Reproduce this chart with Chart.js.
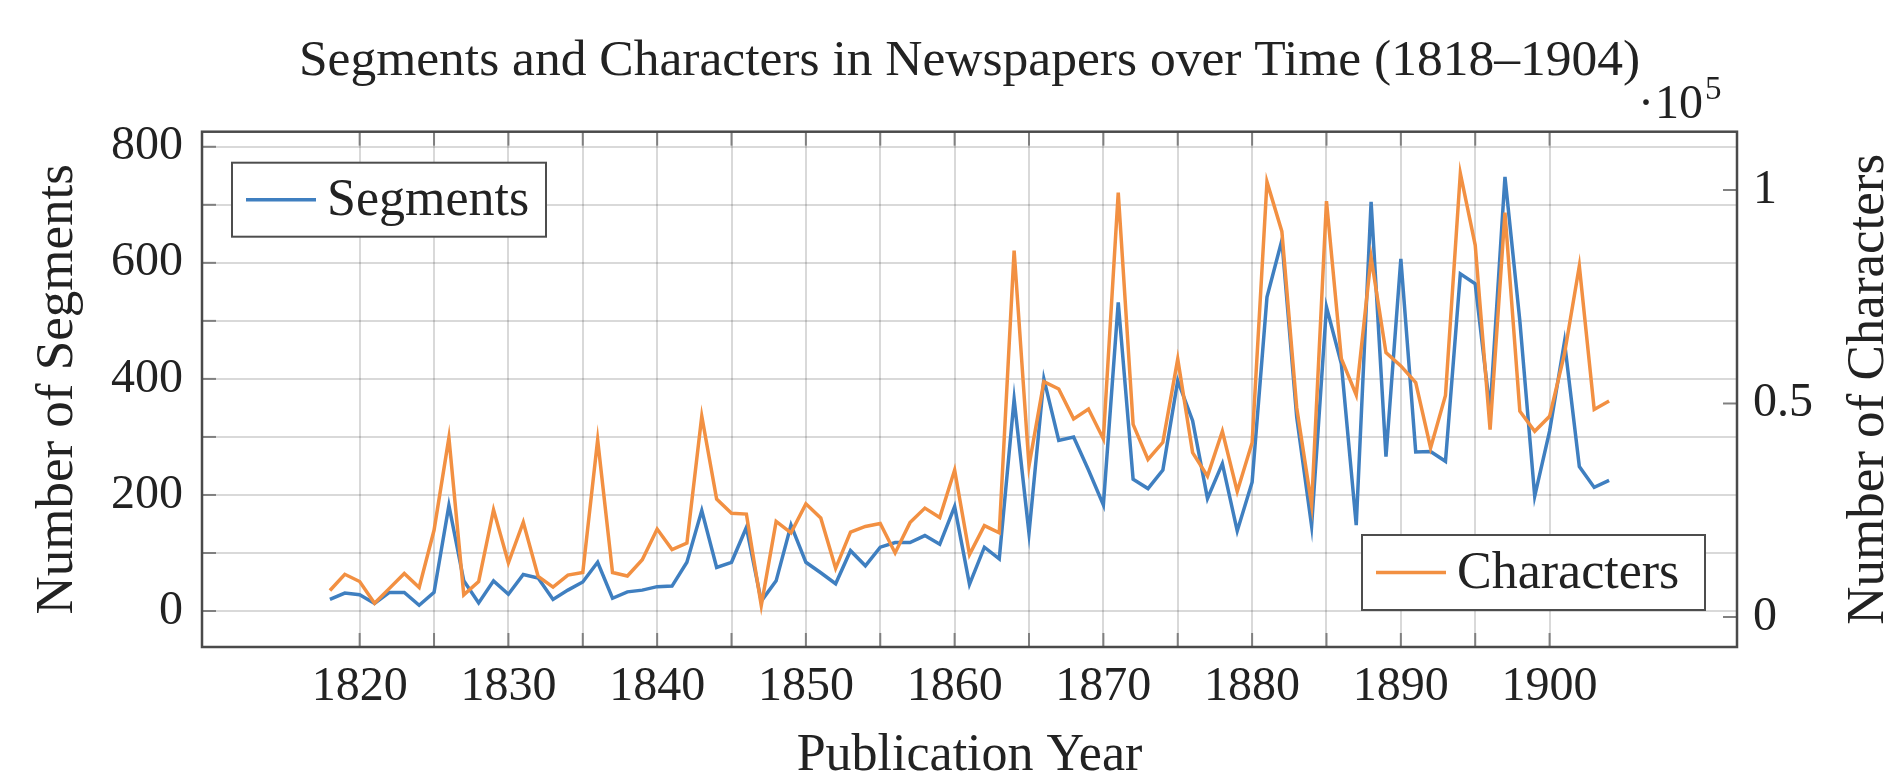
<!DOCTYPE html>
<html>
<head>
<meta charset="utf-8">
<script src="https://cdn.jsdelivr.net/npm/chart.js@4.4.1/dist/chart.umd.min.js"></script>
<style>
  html, body { margin: 0; padding: 0; background: #ffffff; }
  canvas { display: block; }
</style>
</head>
<body>
<canvas id="chart" width="1890" height="777"></canvas>
<script>
// ---------------- data ----------------
const chartTitle = 'Segments and Characters in Newspapers over Time (1818–1904)';
const seriesNames = ['Segments', 'Characters'];
const xAxisTitle = 'Publication Year';
const leftAxisTitle = 'Number of Segments';
const rightAxisTitle = 'Number of Characters';

const years = [
  1818, 1819, 1820, 1821, 1822, 1823, 1824, 1825, 1826, 1827,
  1828, 1829, 1830, 1831, 1832, 1833, 1834, 1835, 1836, 1837,
  1838, 1839, 1840, 1841, 1842, 1843, 1844, 1845, 1846, 1847,
  1848, 1849, 1850, 1851, 1852, 1853, 1854, 1855, 1856, 1857,
  1858, 1859, 1860, 1861, 1862, 1863, 1864, 1865, 1866, 1867,
  1868, 1869, 1870, 1871, 1872, 1873, 1874, 1875, 1876, 1877,
  1878, 1879, 1880, 1881, 1882, 1883, 1884, 1885, 1886, 1887,
  1888, 1889, 1890, 1891, 1892, 1893, 1894, 1895, 1896, 1897,
  1898, 1899, 1900, 1901, 1902, 1903, 1904
];

const segments = [
  20, 31, 28, 13, 32, 32, 10, 32, 182, 52,
  14, 52, 29, 63, 57, 20, 36, 50, 84, 22,
  33, 36, 42, 43, 84, 173, 75, 84, 144, 17,
  52, 148, 84, 66, 47, 104, 78, 110, 118, 118,
  130, 115, 180, 46, 110, 90, 365, 134, 400, 294,
  300, 243, 183, 532, 227, 211, 243, 397, 328, 194,
  254, 138, 222, 541, 639, 334, 147, 524, 426, 148,
  705, 266, 607, 274, 275, 258, 581, 564, 345, 748,
  500, 198, 310, 464, 249, 213, 225
];

const characters = [
  6200, 10000, 8300, 3200, 6700, 10200, 6900, 20300, 42000, 5200,
  8300, 25100, 12700, 22200, 9500, 7000, 9800, 10400, 41500, 10400,
  9600, 13400, 20600, 15800, 17300, 47000, 27600, 24300, 24100, 2700,
  22400, 19700, 26500, 23200, 11400, 19900, 21200, 21900, 15000, 22100,
  25500, 23300, 34400, 14600, 21400, 19700, 85800, 35400, 55100, 53400,
  46400, 48700, 41700, 99400, 45100, 36900, 40900, 60400, 38500, 33000,
  43500, 29400, 40800, 101900, 90300, 49000, 26200, 97400, 60500, 52000,
  84200, 61900, 58800, 54900, 39600, 51900, 103900, 87100, 43900, 94700,
  48200, 43500, 47000, 61600, 82200, 48600, 50600
];

const xTickValues = [1820, 1825, 1830, 1835, 1840, 1845, 1850, 1855, 1860, 1865,
                     1870, 1875, 1880, 1885, 1890, 1895, 1900];
const xTickLabels = ['1820', '1830', '1840', '1850', '1860', '1870', '1880', '1890', '1900'];
const leftTickValues = [0, 100, 200, 300, 400, 500, 600, 700, 800];
const leftTickLabels = ['0', '200', '400', '600', '800'];
const rightTickValues = [0, 50000, 100000];
const rightTickLabels = ['0', '0.5', '1'];
const rightExponent = '5';

// ---------------- styles ----------------
const FONT = "'Liberation Serif', 'DejaVu Serif', serif";
const TEXT = '#222222';
const BLUE = '#3f7fc0';
const ORANGE = '#f29042';
const GRID = 'rgba(0,0,0,0.15)';

Chart.defaults.font.family = FONT;
Chart.defaults.color = TEXT;

const toPoints = (vals) => vals.map((v, i) => ({ x: years[i], y: v }));

function setTicks(values) {
  return (scale) => { scale.ticks = values.map(v => ({ value: v })); };
}

function drawLine(ctx, x1, y1, x2, y2) {
  ctx.beginPath(); ctx.moveTo(x1, y1); ctx.lineTo(x2, y2); ctx.stroke();
}

function drawLegendBox(ctx, left, top, w, h, color, label) {
  ctx.save();
  ctx.fillStyle = '#ffffff';
  ctx.fillRect(left, top, w, h);
  ctx.strokeStyle = '#4d4d4d';
  ctx.lineWidth = 2;
  ctx.strokeRect(left, top, w, h);
  const cy = top + h / 2;
  ctx.strokeStyle = color;
  ctx.lineWidth = 3.5;
  drawLine(ctx, left + 14, cy, left + 84, cy);
  ctx.fillStyle = TEXT;
  ctx.font = '52px ' + FONT;
  ctx.textAlign = 'left';
  ctx.textBaseline = 'middle';
  ctx.fillText(label, left + 95, cy + 2);
  ctx.restore();
}

const decor = {
  id: 'decor',
  afterDatasetsDraw(chart) {
    const { ctx, chartArea: a, scales } = chart;
    ctx.save();
    // inward tick marks
    ctx.strokeStyle = '#808080';
    ctx.lineWidth = 2;
    const L = 14;
    leftTickValues.forEach(v => {
      const y = scales.y.getPixelForValue(v);
      drawLine(ctx, a.left, y, a.left + L, y);
    });
    rightTickValues.forEach(v => {
      const y = scales.y1.getPixelForValue(v);
      drawLine(ctx, a.right - L, y, a.right, y);
    });
    xTickValues.forEach(v => {
      const x = scales.x.getPixelForValue(v);
      drawLine(ctx, x, a.bottom, x, a.bottom - L);
      drawLine(ctx, x, a.top, x, a.top + L);
    });
    // plot frame
    ctx.strokeStyle = '#4a4a4a';
    ctx.lineWidth = 2.5;
    ctx.strokeRect(a.left, a.top, a.right - a.left, a.bottom - a.top);
    ctx.restore();

    // legends
    drawLegendBox(ctx, a.left + 30, a.top + 31, 314, 74, BLUE, seriesNames[0]);
    drawLegendBox(ctx, a.right - 32 - 343, a.bottom - 37 - 75, 343, 75, ORANGE, seriesNames[1]);
  },
  afterDraw(chart) {
    const { ctx, chartArea: a } = chart;
    ctx.save();
    ctx.fillStyle = TEXT;
    // right axis title, reading bottom-to-top
    ctx.translate(1869, (a.top + a.bottom) / 2);
    ctx.rotate(-Math.PI / 2);
    ctx.font = '53px ' + FONT;
    ctx.textAlign = 'center';
    ctx.textBaseline = 'middle';
    ctx.fillText(rightAxisTitle, 0, 0);
    ctx.restore();

    // ·10^5 multiplier
    ctx.save();
    ctx.fillStyle = TEXT;
    ctx.textAlign = 'left';
    ctx.textBaseline = 'alphabetic';
    ctx.font = '48px ' + FONT;
    ctx.fillText('·', a.right - 99, 118);
    ctx.fillText('10', a.right - 82, 118);
    ctx.font = '33px ' + FONT;
    ctx.fillText(rightExponent, a.right - 32, 99);
    ctx.restore();
  }
};

new Chart(document.getElementById('chart'), {
  type: 'line',
  data: {
    datasets: [
      {
        label: seriesNames[0],
        data: toPoints(segments),
        yAxisID: 'y',
        borderColor: BLUE,
        backgroundColor: BLUE,
        borderWidth: 3.5,
        pointRadius: 0,
        tension: 0,
        fill: false,
        order: 2
      },
      {
        label: seriesNames[1],
        data: toPoints(characters),
        yAxisID: 'y1',
        borderColor: ORANGE,
        backgroundColor: ORANGE,
        borderWidth: 3.5,
        pointRadius: 0,
        tension: 0,
        fill: false,
        order: 1
      }
    ]
  },
  options: {
    responsive: false,
    animation: false,
    devicePixelRatio: 1,
    layout: { padding: 0 },
    plugins: {
      legend: { display: false },
      tooltip: { enabled: false },
      title: {
        display: true,
        text: chartTitle,
        fullSize: false,
        color: TEXT,
        font: { size: 51.5, weight: 'normal', family: FONT, lineHeight: 1.2 },
        padding: { top: 31, bottom: 38.9 }
      }
    },
    scales: {
      x: {
        type: 'linear',
        position: 'bottom',
        min: 1809.4,
        max: 1912.6,
        afterBuildTicks: setTicks(xTickValues),
        afterFit: (s) => { s.height = 130; },
        grid: { color: GRID, lineWidth: 2, drawTicks: false },
        border: { display: false },
        ticks: {
          autoSkip: false,
          maxRotation: 0,
          padding: 12,
          color: TEXT,
          font: { size: 48, family: FONT },
          callback: (v) => (xTickLabels.includes(String(v)) ? String(v) : '')
        },
        title: {
          display: true,
          text: xAxisTitle,
          color: TEXT,
          font: { size: 52, family: FONT, lineHeight: 0.8 },
          padding: { top: 0, bottom: 0 }
        }
      },
      y: {
        type: 'linear',
        position: 'left',
        min: -62,
        max: 826,
        afterBuildTicks: setTicks(leftTickValues),
        afterFit: (s) => { s.width = 202; },
        grid: { color: GRID, lineWidth: 2, drawTicks: false },
        border: { display: false },
        ticks: {
          padding: 19,
          color: TEXT,
          font: { size: 48, family: FONT },
          callback: (v) => (leftTickLabels.includes(String(v)) ? String(v) : '')
        },
        title: {
          display: true,
          text: leftAxisTitle,
          color: TEXT,
          font: { size: 53, family: FONT, lineHeight: 1.2 },
          padding: { top: 26, bottom: 0 }
        }
      },
      y1: {
        type: 'linear',
        position: 'right',
        min: -7030,
        max: 113650,
        afterBuildTicks: setTicks(rightTickValues),
        afterFit: (s) => { s.width = 153; },
        grid: { drawOnChartArea: false, drawTicks: false },
        border: { display: false },
        ticks: {
          padding: 16,
          color: TEXT,
          font: { size: 48, family: FONT },
          callback: (v) => {
            const i = rightTickValues.indexOf(v);
            return i >= 0 ? rightTickLabels[i] : '';
          }
        },
        title: { display: false }
      }
    }
  },
  plugins: [decor]
});
</script>
</body>
</html>
